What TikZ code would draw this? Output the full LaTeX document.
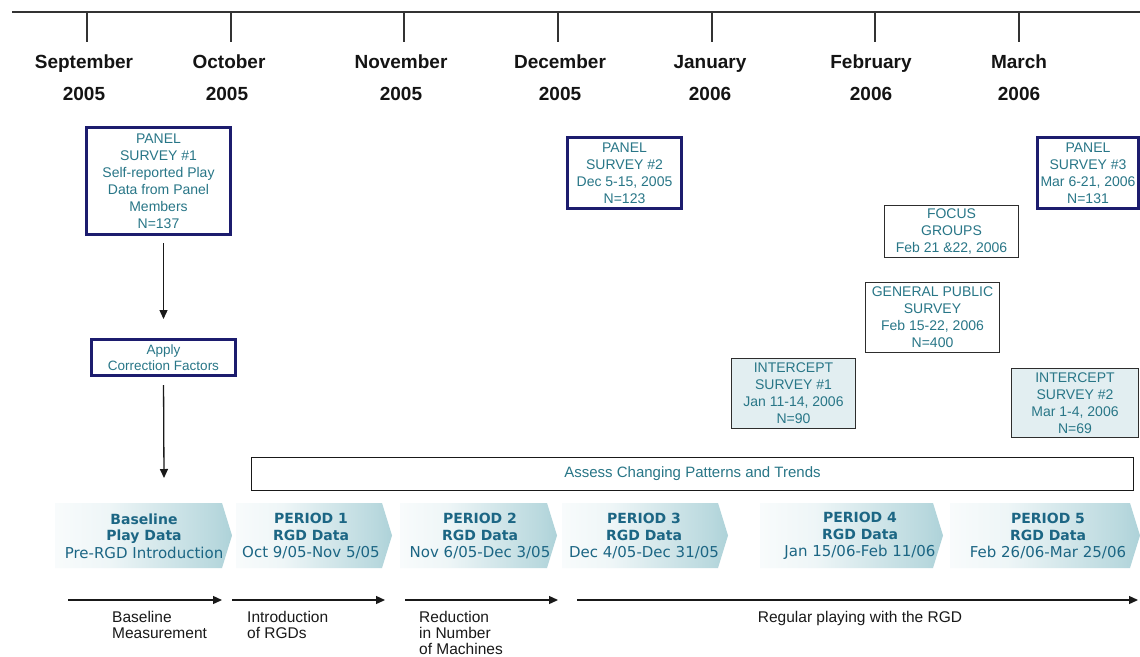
\documentclass[tikz,border=0pt]{standalone}
\usepackage{fontspec}
\setmainfont{Liberation Sans}
\newfontfamily\dejavu{DejaVu Sans}
\usetikzlibrary{arrows.meta}
\definecolor{navy}{RGB}{28,28,110}
\definecolor{tealtxt}{RGB}{40,118,135}
\definecolor{chevtxt}{RGB}{28,102,132}
\definecolor{chevteal}{RGB}{115,178,189}
\colorlet{chevlight}{white!88!chevteal}
\colorlet{chevmid}{white!50!chevteal}
\definecolor{icfill}{RGB}{226,238,241}
\definecolor{boxline}{RGB}{45,45,45}
\pgfdeclarehorizontalshading{chevshade}{100bp}{color(0bp)=(white); color(15bp)=(white); color(40bp)=(chevlight); color(70bp)=(chevmid); color(100bp)=(chevteal)}
\tikzset{
  monthlbl/.style={font=\fontsize{19}{19}\selectfont\bfseries, anchor=base, inner sep=0pt, text=black!92},
  boxtext/.style={text=tealtxt, align=center, inner sep=0pt, font=\fontsize{14}{17}\selectfont},
  panelbox/.style={boxtext, draw=navy, line width=3pt, fill=white},
  plainbox/.style={boxtext, draw=boxline, line width=1.3pt, fill=white},
  icbox/.style={plainbox, fill=icfill},
  chevlbl/.style={text=chevtxt, align=center, inner sep=0pt, font=\dejavu\fontsize{14}{16.5}\selectfont},
  chevshape/.style={shading=chevshade},
  botlbl/.style={font=\fontsize{15.5}{16}\selectfont, align=left, anchor=north west, inner sep=0pt, text=black!90},
  arr/.style={-{Triangle[length=9pt,width=8pt]}, line width=1.3pt, black!90},
  tline/.style={line width=1.5pt, black!80}
}
\newcommand\chevreg{\fontsize{15}{16.5}\selectfont\mdseries}
\begin{document}
\begin{tikzpicture}[x=1pt,y=-1pt]
\useasboundingbox (0,0) rectangle (1140,656);
\fill[white] (0,0) rectangle (1140,656);
% timeline
\coordinate (tl0) at (12,12);
\coordinate (tl1) at (1140,12);
\draw[tline] (tl0) -- (tl1);
\foreach \x in {87,231,404,558,712,875,1019}{\draw[tline] (\x,12) -- (\x,42);}
% months
\node[monthlbl] (m1) at (84,68) {September};
\node[monthlbl] (y1) at (84,100) {2005};
\node[monthlbl] (m2) at (229,68) {October};
\node[monthlbl] (y2) at (227,100) {2005};
\node[monthlbl] (m3) at (401,68) {November};
\node[monthlbl] (y3) at (401,100) {2005};
\node[monthlbl] (m4) at (560,68) {December};
\node[monthlbl] (y4) at (560,100) {2005};
\node[monthlbl] (m5) at (710,68) {January};
\node[monthlbl] (y5) at (710,100) {2006};
\node[monthlbl] (m6) at (871,68) {February};
\node[monthlbl] (y6) at (871,100) {2006};
\node[monthlbl] (m7) at (1019,68) {March};
\node[monthlbl] (y7) at (1019,100) {2006};
% boxes
\node[panelbox, minimum width=144pt, minimum height=107pt] (p1) at (158.5,181)
  {PANEL\\SURVEY \#1\\Self-reported Play\\Data from Panel\\Members\\N=137};
\node[panelbox, minimum width=144pt, minimum height=36pt, font=\fontsize{13.5}{16.5}\selectfont] (apply) at (163.5,357.5)
  {Apply\\Correction Factors};
\node[panelbox, minimum width=114pt, minimum height=71pt] (p2) at (624.5,173)
  {PANEL\\SURVEY \#2\\Dec 5-15, 2005\\N=123};
\node[panelbox, minimum width=101pt, minimum height=71pt] (p3) at (1088,173)
  {PANEL\\SURVEY \#3\\Mar 6-21, 2006\\N=131};
\node[plainbox, minimum width=133.5pt, minimum height=51.5pt] (focus) at (951.5,231.5)
  {FOCUS\\GROUPS\\Feb 21 \&22, 2006};
\node[plainbox, minimum width=133.5pt, minimum height=69.5pt] (gps) at (932.5,317.5)
  {GENERAL PUBLIC\\SURVEY\\Feb 15-22, 2006\\N=400};
\node[icbox, minimum width=123.5pt, minimum height=69.5pt] (ic1) at (793.5,393.5)
  {INTERCEPT\\SURVEY \#1\\Jan 11-14, 2006\\N=90};
\node[icbox, minimum width=126.5pt, minimum height=68.5pt] (ic2) at (1075,403)
  {INTERCEPT\\SURVEY \#2\\Mar 1-4, 2006\\N=69};
\node[draw=black!90, line width=1.4pt, fill=white, minimum width=882pt, minimum height=33pt, inner sep=0pt,
  text=tealtxt, font=\fontsize{15}{15}\selectfont] (assess) at (692.5,474) {Assess Changing Patterns and Trends};
% chevrons
\shade[chevshape] (55,503) -- (222,503) -- (232,535.5) -- (222,568) -- (55,568) -- cycle;
\shade[chevshape] (236,503) -- (382,503) -- (392,535.5) -- (382,568) -- (236,568) -- cycle;
\shade[chevshape] (400,503) -- (547,503) -- (557,535.5) -- (547,568) -- (400,568) -- cycle;
\shade[chevshape] (562,503) -- (718,503) -- (728,535.5) -- (718,568) -- (562,568) -- cycle;
\shade[chevshape] (760,503) -- (933,503) -- (943,535.5) -- (933,568) -- (760,568) -- cycle;
\shade[chevshape] (950,503) -- (1130,503) -- (1140,535.5) -- (1130,568) -- (950,568) -- cycle;
\node[chevlbl] (c0) at (144,536) {\bfseries Baseline\\\bfseries Play Data\\[1pt]{\chevreg Pre-RGD Introduction}};
\node[chevlbl] (c1) at (311,536) {\bfseries PERIOD 1\\\bfseries RGD Data\\[1pt]{\chevreg Oct 9/05-Nov 5/05}};
\node[chevlbl] (c2) at (480,536) {\bfseries PERIOD 2\\\bfseries RGD Data\\[1pt]{\chevreg Nov 6/05-Dec 3/05}};
\node[chevlbl] (c3) at (644,536) {\bfseries PERIOD 3\\\bfseries RGD Data\\[1pt]{\chevreg Dec 4/05-Dec 31/05}};
\node[chevlbl] (c4) at (860,536) {\bfseries PERIOD 4\\\bfseries RGD Data\\[1pt]{\chevreg Jan 15/06-Feb 11/06}};
\node[chevlbl] (c5) at (1048,536) {\bfseries PERIOD 5\\\bfseries RGD Data\\[1pt]{\chevreg Feb 26/06-Mar 25/06}};
% vertical arrows
\draw[arr, shorten <=7pt, shorten >=19pt] (apply.north |- p1.south) -- (apply.north);
\coordinate (basein) at (164,478);
\draw[arr, shorten <=8pt] (apply.south) -- (basein);
% bottom arrows
\coordinate (a1s) at (68,600);  \coordinate (a1e) at (222,600);
\coordinate (a2s) at (232,600); \coordinate (a2e) at (385,600);
\coordinate (a3s) at (405,600); \coordinate (a3e) at (558,600);
\coordinate (a4s) at (577,600); \coordinate (a4e) at (1138,600);
\draw[arr] (a1s) -- (a1e);
\draw[arr] (a2s) -- (a2e);
\draw[arr] (a3s) -- (a3e);
\draw[arr] (a4s) -- (a4e);
\node[botlbl] (b1) at (112,611) {Baseline\\Measurement};
\node[botlbl] (b2) at (247,611) {Introduction\\of RGDs};
\node[botlbl] (b3) at (419,611) {Reduction\\in Number\\of Machines};
\node[botlbl, anchor=north] (b4) at (860,611) {Regular playing with the RGD};
\end{tikzpicture}
\end{document}
